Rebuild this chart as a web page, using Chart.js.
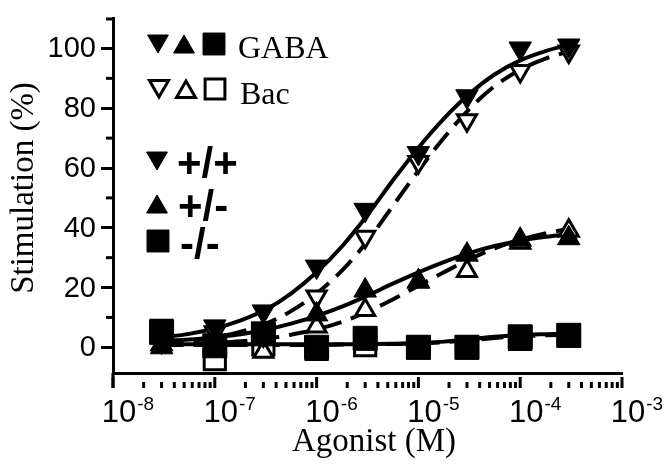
<!DOCTYPE html>
<html lang="en">
<head>
<meta charset="UTF-8">
<title>Agonist dose response</title>
<script src="https://cdn.jsdelivr.net/npm/chart.js@4"></script>
<style>
  html, body { margin: 0; padding: 0; background: #ffffff; }
  #wrap { width: 664px; height: 468px; position: relative; }
</style>
</head>
<body>
<div id="wrap"><canvas id="doseChart"></canvas></div>
<script>
// measured doses (M)
const doses = [3e-8, 1e-7, 3e-7, 1e-6, 3e-6, 1e-5, 3e-5, 1e-4, 3e-4];

// stimulation (%)
const gabaWT  = [4, 7, 12, 27, 46, 65, 84, 100, 101];
const bacWT   = [2, 5, 4, 17, 37, 62, 76, 92.5, 99];
const gabaHet = [0, 1, 4, 11, 19, 22, 31, 36, 36.5];
const bacHet  = [1, 1, -1.5, 7, 12.5, 22, 25.5, 35, 39];
const gabaKO  = [5, 0.5, 4.5, 0, 3, 0, 0, 3.5, 4];
const bacKO   = [5.5, -4, 1, -0.5, 0.7, 0, 0, 2.8, 4];

const curveDoses = [3e-8, 5.6e-8, 1e-7, 1.8e-7, 3.2e-7, 5.6e-7, 1e-6, 1.8e-6, 3.2e-6,
                    5.6e-6, 1e-5, 1.8e-5, 3.2e-5, 5.6e-5, 1e-4, 1.8e-4, 3e-4];
const fitGabaWT  = [3.3, 4.5, 6.3, 9.0, 12.7, 18.0, 25.1, 34, 44.5, 55.8, 66.8, 76.7, 84.9, 91.3, 96, 99.2, 101.3];
const fitBacWT   = [1.4, 2.1, 3.3, 5.2, 8.0, 12.1, 18.0, 25.9, 35.8, 47.3, 59.1, 70.3, 79.9, 87.4, 92.9, 96.7, 99.0];
const fitGabaHet = [2.1, 2.6, 3.4, 4.4, 5.9, 7.9, 10.5, 13.7, 17.4, 21.3, 25.1, 28.6, 31.6, 33.9, 35.7, 37.0, 37.9];
const fitBacHet  = [0.8, 1.0, 1.4, 2.0, 2.9, 4.2, 6.0, 8.6, 12.0, 16.0, 20.6, 25.2, 29.5, 33.1, 36.0, 38.2, 39.6];
const fitGabaKO  = [1.0, 1.0, 1.0, 1.0, 1.0, 1.0, 1.0, 1.0, 1.1, 1.2, 1.4, 1.9, 2.7, 3.5, 4.1, 4.4, 4.6];
const fitBacKO   = [0.8, 0.8, 0.8, 0.8, 0.8, 0.8, 0.8, 0.9, 1.0, 1.1, 1.3, 1.7, 2.4, 3.1, 3.7, 4.0, 4.2];

// axes
const xTickValues = [1e-8, 1e-7, 1e-6, 1e-5, 1e-4, 1e-3];
const xTickExps   = ['-8', '-7', '-6', '-5', '-4', '-3'];
const xMinorTicks = [2, 3, 4, 5, 6, 7, 8, 9];
const yTickValues = [0, 20, 40, 60, 80, 100];
const yMinorTicks = [10, 30, 50, 70, 90];

const xTitle = 'Agonist (M)';
const yTitle = 'Stimulation (%)';

const sansFont = '"Liberation Sans", Arial, sans-serif';
const serifFont = '"Liberation Serif", "Times New Roman", serif';

const pts = (xs, ys) => xs.map((x, i) => ({ x: x, y: ys[i] }));

const filled = (label, ys, style, rot, r) => ({
  label: label, data: pts(doses, ys), showLine: false,
  pointStyle: style, pointRotation: rot, pointRadius: r, pointHoverRadius: r,
  backgroundColor: '#000', borderColor: '#000', pointBorderWidth: 1
});
const open = (label, ys, style, rot, r) => ({
  label: label, data: pts(doses, ys), showLine: false,
  pointStyle: style, pointRotation: rot, pointRadius: r, pointHoverRadius: r,
  backgroundColor: '#fff', borderColor: '#000', pointBorderWidth: 3
});
const curve = (label, ys, dashed) => ({
  label: label, data: pts(curveDoses, ys), showLine: true,
  pointRadius: 0, borderColor: '#000', borderWidth: 4,
  borderDash: dashed ? [22, 10] : [], cubicInterpolationMode: 'monotone', fill: false
});

// text, tick marks/labels and the in-plot key
const decorPlugin = {
  id: 'decor',
  afterDraw(chart) {
    const ctx = chart.ctx;
    const xs = chart.scales.x, ys = chart.scales.y;
    const area = chart.chartArea;
    ctx.save();
    ctx.strokeStyle = '#000';
    ctx.fillStyle = '#000';

    // x ticks hang a little below the axis line
    ctx.lineWidth = 3;
    const tickBottom = area.bottom + 15;
    ctx.beginPath();
    ctx.moveTo(area.left, area.bottom);
    ctx.lineTo(area.left, tickBottom);
    ctx.stroke();
    xTickValues.forEach(v => {
      const px = xs.getPixelForValue(v);
      ctx.beginPath();
      ctx.moveTo(px, area.bottom + 4);
      ctx.lineTo(px, tickBottom);
      ctx.stroke();
    });
    for (let e = -8; e < -3; e++) {
      xMinorTicks.forEach(m => {
        const px = xs.getPixelForValue(m * Math.pow(10, e));
        ctx.beginPath();
        ctx.moveTo(px, area.bottom + 9);
        ctx.lineTo(px, tickBottom);
        ctx.stroke();
      });
    }

    // y minor ticks and top cap
    yMinorTicks.forEach(v => {
      const py = ys.getPixelForValue(v);
      ctx.beginPath();
      ctx.moveTo(area.left, py);
      ctx.lineTo(area.left - 7, py);
      ctx.stroke();
    });
    ctx.beginPath();
    ctx.moveTo(area.left, area.top + 1);
    ctx.lineTo(area.left - 7, area.top + 1);
    ctx.stroke();

    // y tick labels
    ctx.font = '29px ' + sansFont;
    ctx.textAlign = 'right';
    ctx.textBaseline = 'middle';
    yTickValues.forEach(v => {
      ctx.fillText(String(v), area.left - 17, ys.getPixelForValue(v) + 1);
    });

    // x tick labels with superscript
    xTickValues.forEach((v, i) => {
      const px = xs.getPixelForValue(v) + 6;
      ctx.font = '31px ' + sansFont;
      ctx.textAlign = 'center';
      ctx.textBaseline = 'alphabetic';
      ctx.fillText('10', px, 422);
      const w = ctx.measureText('10').width;
      ctx.font = '19px ' + sansFont;
      ctx.textAlign = 'left';
      ctx.fillText(xTickExps[i], px + w / 2 + 1, 410);
    });

    // axis titles
    ctx.font = '33px ' + serifFont;
    ctx.textAlign = 'center';
    ctx.textBaseline = 'middle';
    ctx.fillText(xTitle, 374, 442);
    ctx.save();
    ctx.translate(24, 188);
    ctx.rotate(-Math.PI / 2);
    ctx.fillText(yTitle, 0, 0);
    ctx.restore();

    // key
    const mark = (style, rot, r, x, y, isOpen) => {
      ctx.fillStyle = isOpen ? '#fff' : '#000';
      ctx.strokeStyle = '#000';
      ctx.lineWidth = isOpen ? 3 : 1;
      Chart.helpers.drawPoint(ctx, { pointStyle: style, rotation: rot, radius: r, borderWidth: isOpen ? 3 : 1 }, x, y);
    };
    mark('triangle', 180, 12, 158, 41, false);
    mark('triangle', 0, 12, 184, 47, false);
    mark('rect', 0, 15.5, 214, 44, false);
    mark('triangle', 180, 11, 159, 86, true);
    mark('triangle', 0, 11, 186, 92, true);
    mark('rect', 0, 14, 215, 89, true);
    mark('triangle', 180, 12, 157, 158, false);
    mark('triangle', 0, 12, 157, 207, false);
    mark('rect', 0, 15.5, 158, 241, false);

    ctx.fillStyle = '#000';
    ctx.textAlign = 'left';
    ctx.textBaseline = 'alphabetic';
    ctx.font = '32px ' + serifFont;
    ctx.fillText('GABA', 238, 58);
    ctx.fillText('Bac', 240, 104);
    ctx.font = 'bold 42px ' + sansFont;
    ctx.fillText('+/+', 177, 177);
    ctx.fillText('+/-', 178, 220);
    ctx.fillText('-/-', 180, 258);
    ctx.restore();
  }
};

new Chart(document.getElementById('doseChart'), {
  type: 'scatter',
  data: {
    datasets: [
      filled('GABA +/+', gabaWT, 'triangle', 180, 13),
      filled('GABA +/-', gabaHet, 'triangle', 0, 13),
      filled('GABA -/-', gabaKO, 'rect', 0, 17),
      open('Bac +/+', bacWT, 'triangle', 180, 11),
      open('Bac +/-', bacHet, 'triangle', 0, 11),
      open('Bac -/-', bacKO, 'rect', 0, 15),
      curve('GABA +/+ fit', fitGabaWT, false),
      curve('GABA +/- fit', fitGabaHet, false),
      curve('GABA -/- fit', fitGabaKO, false),
      curve('Bac +/+ fit', fitBacWT, true),
      curve('Bac +/- fit', fitBacHet, true),
      curve('Bac -/- fit', fitBacKO, true)
    ]
  },
  options: {
    responsive: true,
    maintainAspectRatio: false,
    animation: false,
    devicePixelRatio: 1,
    layout: { padding: { left: 0, top: 13, right: 42, bottom: 0 } },
    plugins: { legend: { display: false }, tooltip: { enabled: false } },
    scales: {
      x: {
        type: 'logarithmic',
        min: 1e-8,
        max: 1e-3,
        border: { color: '#000', width: 3 },
        grid: { display: false },
        ticks: { display: false },
        afterBuildTicks: s => { s.ticks = xTickValues.map(v => ({ value: v })); },
        afterFit: s => { s.height = 95; }
      },
      y: {
        type: 'linear',
        min: -8.6,
        max: 110.2,
        border: { color: '#000', width: 3 },
        grid: { drawOnChartArea: false, drawTicks: true, tickLength: 12, tickWidth: 3, tickColor: '#000' },
        ticks: { display: false },
        afterBuildTicks: s => { s.ticks = yTickValues.map(v => ({ value: v })); },
        afterFit: s => { s.width = 113; }
      }
    }
  },
  plugins: [decorPlugin]
});
</script>
</body>
</html>
